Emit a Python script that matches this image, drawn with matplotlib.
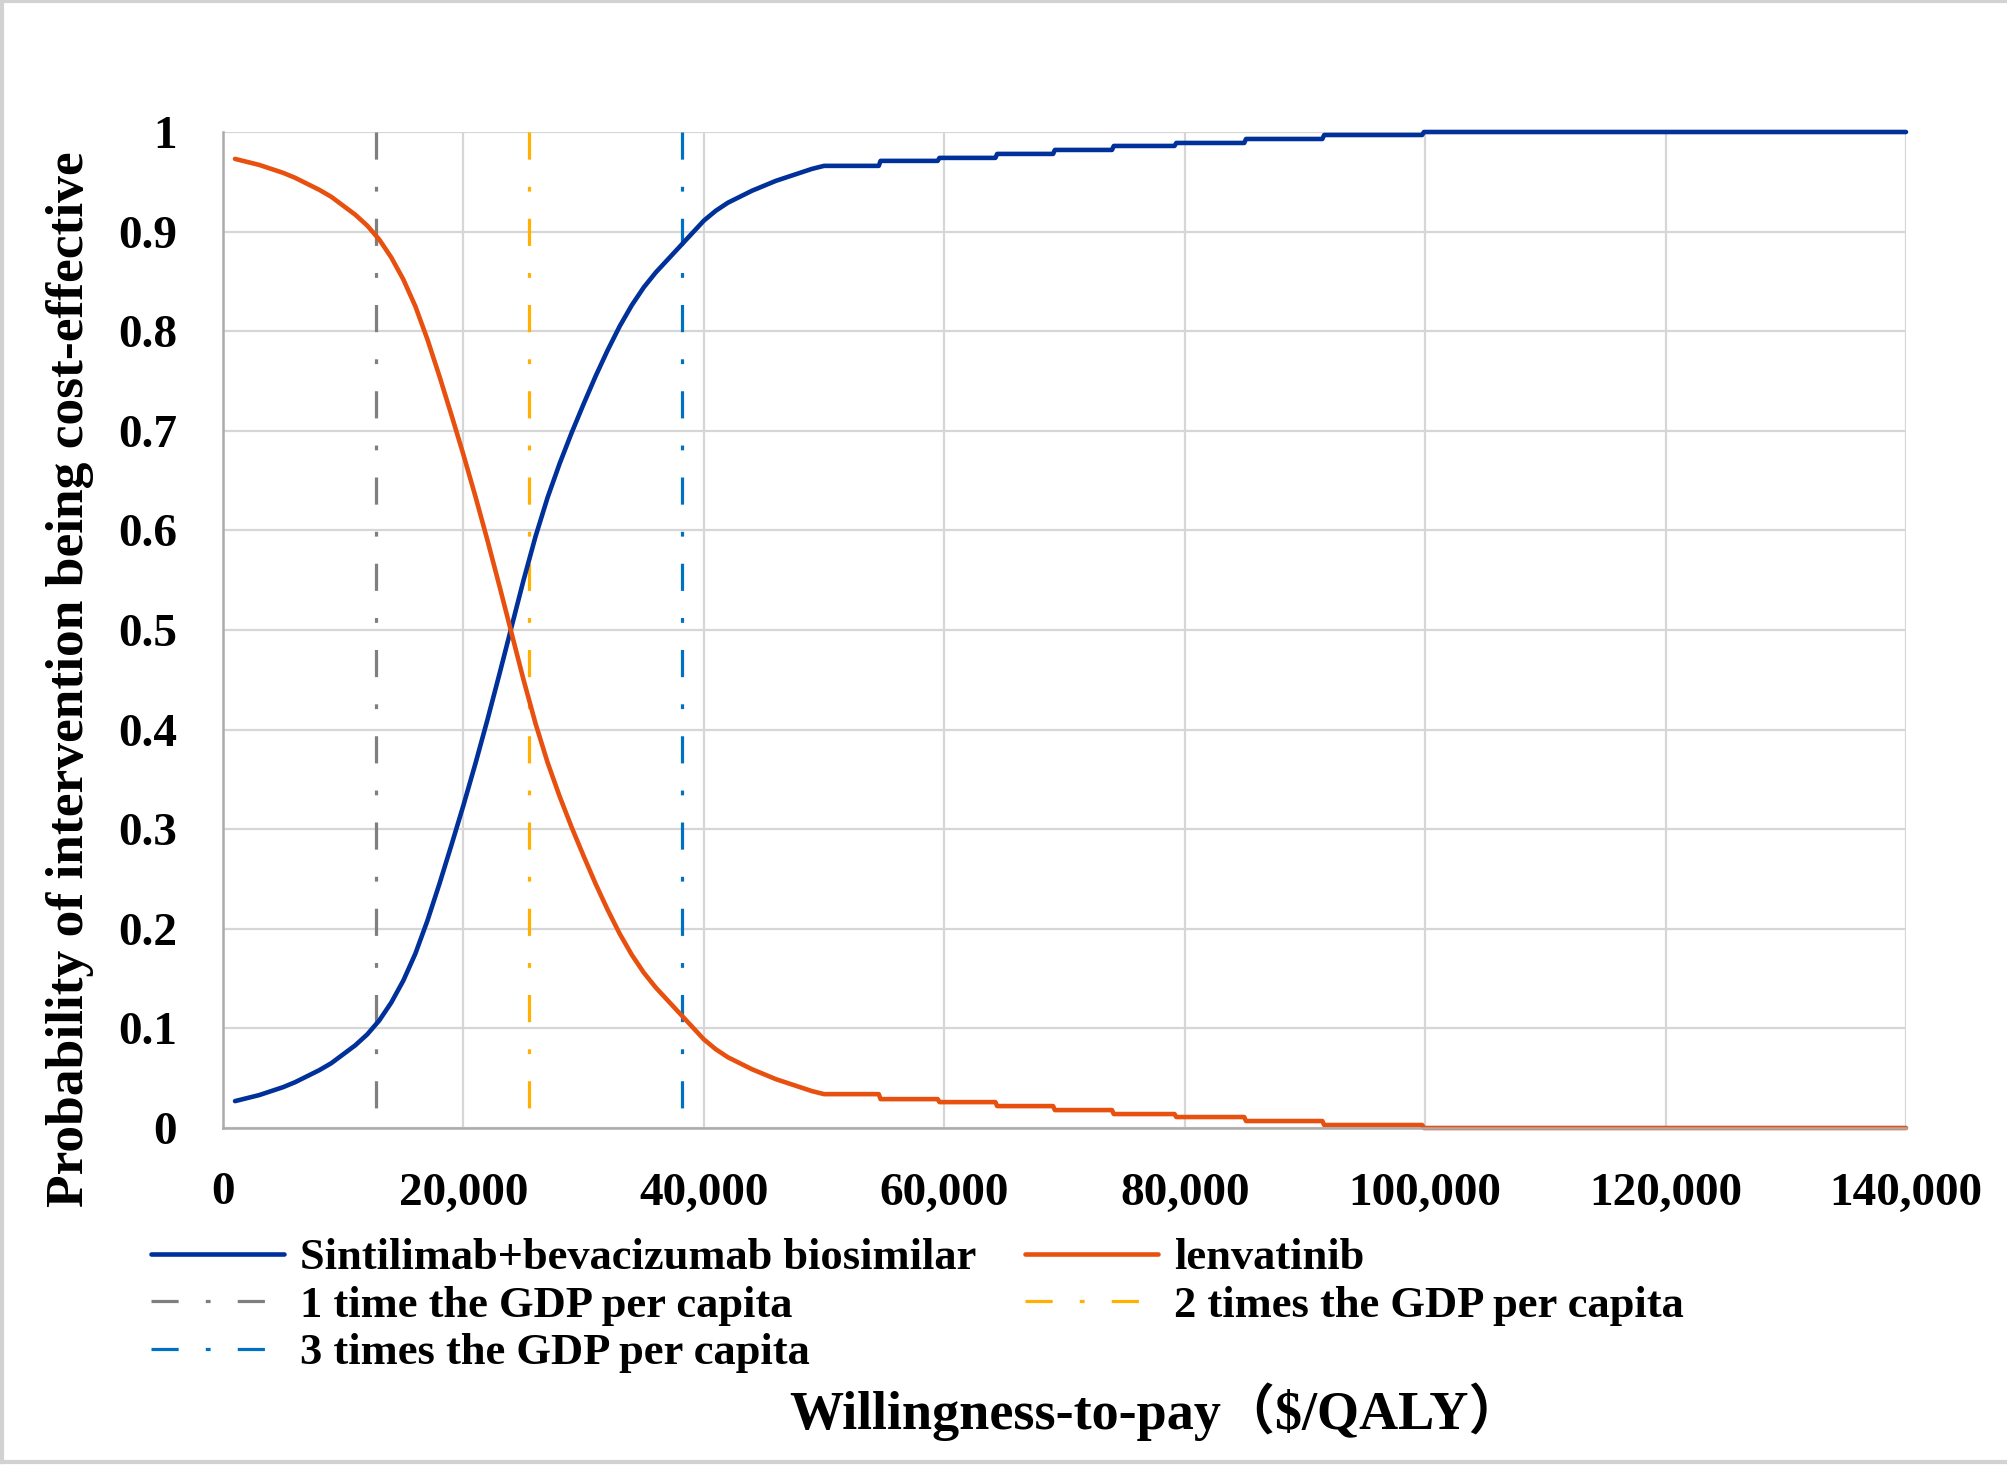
import matplotlib
matplotlib.use("Agg")
import matplotlib.pyplot as plt
from matplotlib.lines import Line2D

# ---------------- data ----------------
wtp_smooth = [1000, 2000, 3000, 4000, 5000, 6000, 7000, 8000, 9000, 10000,
              11000, 12000, 13000, 14000, 15000, 16000, 17000, 18000, 19000, 20000,
              21000, 22000, 23000, 24000, 25000, 26000, 27000, 28000, 29000, 30000,
              31000, 32000, 33000, 34000, 35000, 36000, 37000, 38000, 39000, 40000,
              41000, 42000, 43000, 44000, 45000, 46000, 47000, 48000, 49000]
sintilimab_smooth = [0.027, 0.030, 0.033, 0.037, 0.041, 0.046, 0.052, 0.058, 0.065, 0.074,
                     0.083, 0.094, 0.108, 0.126, 0.148, 0.175, 0.208, 0.245, 0.284, 0.324,
                     0.366, 0.410, 0.456, 0.503, 0.550, 0.594, 0.633, 0.667, 0.698, 0.727,
                     0.755, 0.781, 0.805, 0.826, 0.844, 0.859, 0.872, 0.885, 0.898, 0.911,
                     0.921, 0.929, 0.935, 0.941, 0.946, 0.951, 0.955, 0.959, 0.963]
lenvatinib_smooth = [0.973, 0.970, 0.967, 0.963, 0.959, 0.954, 0.948, 0.942, 0.935, 0.926,
                     0.917, 0.906, 0.892, 0.874, 0.852, 0.825, 0.792, 0.755, 0.716, 0.676,
                     0.634, 0.590, 0.544, 0.497, 0.450, 0.406, 0.367, 0.333, 0.302, 0.273,
                     0.245, 0.219, 0.195, 0.174, 0.156, 0.141, 0.128, 0.115, 0.102, 0.089,
                     0.079, 0.071, 0.065, 0.059, 0.054, 0.049, 0.045, 0.041, 0.037]
# plateau, drawn as steps (start of each step and its level)
wtp_steps = [50000, 54700, 59600, 64400, 69200, 74100, 79300, 85100, 91600, 99900, 140000]
sintilimab_steps = [0.966, 0.971, 0.974, 0.978, 0.982, 0.986, 0.989, 0.993, 0.997, 1.000]
lenvatinib_steps = [0.034, 0.029, 0.026, 0.022, 0.018, 0.014, 0.011, 0.007, 0.003, 0.000]

gdp_thresholds = [12741, 25482, 38223]
threshold_labels = ["1 time the GDP per capita", "2 times the GDP per capita",
                    "3 times the GDP per capita"]
threshold_colors = ["#7F7F7F", "#FFB000", "#0070C0"]

x_ticks = [0, 20000, 40000, 60000, 80000, 100000, 120000, 140000]
y_ticks = [0, 0.1, 0.2, 0.3, 0.4, 0.5, 0.6, 0.7, 0.8, 0.9, 1.0]
y_tick_labels = ["0", "0.1", "0.2", "0.3", "0.4", "0.5", "0.6", "0.7", "0.8", "0.9", "1"]


def build(xs, ys, edges, levels):
    X = list(xs)
    Y = list(ys)
    for i, lv in enumerate(levels):
        X += [edges[i], edges[i + 1] - 150 if i + 1 < len(levels) else edges[i + 1]]
        Y += [lv, lv]
    return X, Y


bx, by = build(wtp_smooth, sintilimab_smooth, wtp_steps, sintilimab_steps)
ox, oy = build(wtp_smooth, lenvatinib_smooth, wtp_steps, lenvatinib_steps)

# ---------------- figure ----------------
SERIF = "Liberation Serif"
fig = plt.figure(figsize=(20.08, 14.72), dpi=100)
ax = fig.add_axes([223 / 2008, 1 - 1128 / 1472, (1906 - 223) / 2008, (1128 - 132) / 1472])

ax.set_xlim(0, 140000)
ax.set_ylim(0, 1)
ax.grid(True, color="#D6D6D6", linewidth=1.6)
ax.set_axisbelow(True)
for s in ["top", "right"]:
    ax.spines[s].set_visible(False)
for s in ["left", "bottom"]:
    ax.spines[s].set_color("#ABABAB")
    ax.spines[s].set_linewidth(1.8)

ls = (0, (8.5, 8.5, 1.5, 8.5))
vlines = []
for xv, lab, col in zip(gdp_thresholds, threshold_labels, threshold_colors):
    # drawn from the top down so the dash pattern starts at the top gridline
    ln, = ax.plot([xv, xv], [1, 0], color=col, linewidth=2.3, linestyle=ls, label=lab)
    vlines.append(ln)

l_blue, = ax.plot(bx, by, color="#00309A", linewidth=3.3, clip_on=False,
                  label="Sintilimab+bevacizumab biosimilar", solid_capstyle="round")
l_orange, = ax.plot(ox, oy, color="#E8500F", linewidth=3.3, clip_on=False,
                    label="lenvatinib", solid_capstyle="round")

ax.set_xticks(x_ticks)
ax.set_xticklabels([f"{v:,}" for v in x_ticks])
ax.set_yticks(y_ticks)
ax.set_yticklabels(y_tick_labels)
ax.tick_params(axis="both", length=0)
ax.tick_params(axis="y", pad=33)
ax.tick_params(axis="x", pad=32)
for lbl in ax.get_xticklabels() + ax.get_yticklabels():
    lbl.set_fontfamily(SERIF)
    lbl.set_fontweight("bold")
    lbl.set_fontsize(34)

fig.text(70 / 2008, 1 - 679 / 1472, "Probability of intervention being cost-effective",
         rotation=90, ha="center", va="center", fontsize=38.5, fontweight="bold",
         family=SERIF)
fig.text(1156 / 2008, 1 - 1412 / 1472, "Willingness-to-pay（\\$/QALY）",
         ha="center", va="center", fontsize=39, fontweight="bold",
         family=[SERIF, "Noto Sans CJK SC"])

handles = [l_blue, vlines[0], vlines[2], l_orange, vlines[1]]
labels = [h.get_label() for h in handles]
leg = fig.legend(handles, labels, loc="upper left", bbox_to_anchor=(151 / 2008, 1 - 1238 / 1472),
                 ncol=2, frameon=False, borderpad=0, borderaxespad=0,
                 handlelength=3.0, handletextpad=0.35, columnspacing=1.1,
                 labelspacing=0.17, prop={"family": SERIF, "weight": "bold", "size": 32})

# figure border (left, top, bottom)
bc = "#D2D2D2"
fig.add_artist(Line2D([0.001, 0.001], [1 - 1462 / 1472, 0.999], color=bc, lw=3, transform=fig.transFigure))
fig.add_artist(Line2D([0.0, 1.0], [0.999, 0.999], color=bc, lw=3, transform=fig.transFigure))
fig.add_artist(Line2D([0.0, 1.0], [1 - 1462 / 1472, 1 - 1462 / 1472], color=bc, lw=3, transform=fig.transFigure))

fig.savefig("out.png", dpi=100)
